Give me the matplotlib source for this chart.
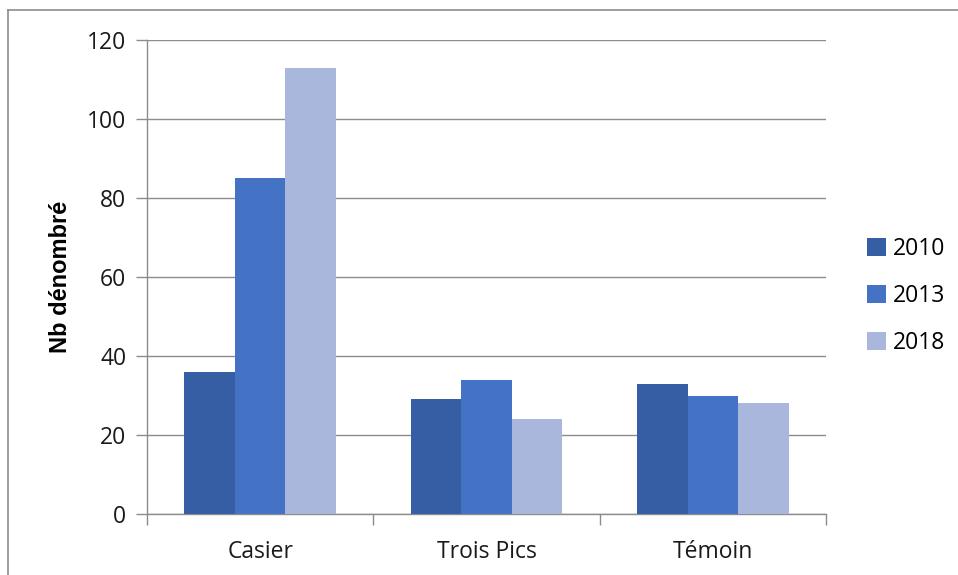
import matplotlib
matplotlib.use("Agg")
import matplotlib.pyplot as plt
from matplotlib.lines import Line2D
from matplotlib.patches import Patch
import numpy as np

categories = ["Casier", "Trois Pics", "Témoin"]
years = ["2010", "2013", "2018"]
values_2010 = [36, 29, 33]
values_2013 = [85, 34, 30]
values_2018 = [113, 24, 28]
colors = ["#355EA5", "#4472C4", "#A8B7DB"]
y_ticks = [0, 20, 40, 60, 80, 100, 120]

fig = plt.figure(figsize=(9.58, 5.75), dpi=100)
ax = fig.add_axes([147 / 958, 1 - 514 / 575, (826 - 147) / 958, (514 - 40) / 575])

x = np.arange(len(categories))
width = 0.223
series = [values_2010, values_2013, values_2018]
for i, (vals, col) in enumerate(zip(series, colors)):
    ax.bar(x + (i - 1) * width, vals, width=width, color=col, zorder=3, linewidth=0)

ax.set_xlim(-0.5, len(categories) - 0.5)
ax.set_ylim(0, 120)
ax.set_yticks(y_ticks)
ax.yaxis.grid(True, color="#8C8C8C", linewidth=1.0, zorder=0)
ax.set_axisbelow(True)

for s in ["top", "right"]:
    ax.spines[s].set_visible(False)
for s in ["left", "bottom"]:
    ax.spines[s].set_color("#8C8C8C")
    ax.spines[s].set_linewidth(1.0)

tick_font = "Open Sans"
ax.set_xticks(x)
ax.set_xticklabels(categories, fontsize=16.5, family=tick_font, color="#1a1a1a")
ax.tick_params(axis="x", which="major", length=0, pad=19)
ax.set_xticks(np.arange(-0.5, len(categories)), minor=True)
ax.tick_params(axis="x", which="minor", length=8, color="#8C8C8C", width=1.0)
ax.tick_params(axis="y", length=8, color="#8C8C8C", width=1.0, pad=7,
               labelsize=16.5)
for lbl in ax.get_yticklabels():
    lbl.set_family(tick_font)
    lbl.set_color("#1a1a1a")

ax.set_ylabel("Nb dénombré", fontsize=17, fontweight="bold",
              family="Liberation Sans", labelpad=11)

handles = [Patch(facecolor=c, edgecolor="none") for c in colors]
leg = fig.legend(handles, years, loc="center left",
                 bbox_to_anchor=(867 / 958, 1 - 296 / 575),
                 frameon=False, prop={"family": tick_font, "size": 16.5},
                 handlelength=0.85, handleheight=0.85, handletextpad=0.3,
                 labelspacing=1.0, borderaxespad=0, borderpad=0)

# outer frame (left and top edges)
fig.add_artist(Line2D([8 / 958, 8 / 958], [0, 1 - 10 / 575],
                      transform=fig.transFigure, color="#8C8C8C", linewidth=1.2))
fig.add_artist(Line2D([8 / 958, 1], [1 - 10 / 575, 1 - 10 / 575],
                      transform=fig.transFigure, color="#8C8C8C", linewidth=1.2))

fig.savefig("out.png", dpi=100)
